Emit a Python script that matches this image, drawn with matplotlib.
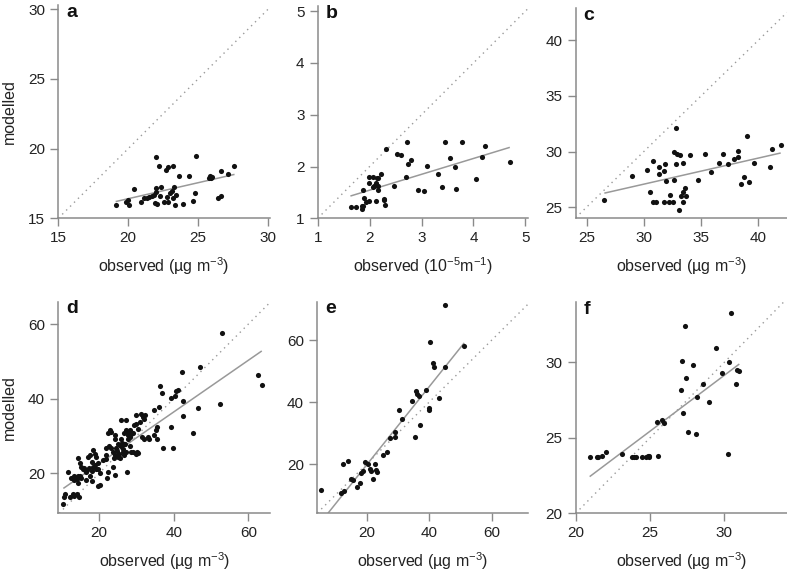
import numpy as np
import matplotlib
matplotlib.use("Agg")
import matplotlib.pyplot as plt

plt.rcParams['font.family'] = ['Liberation Sans', 'DejaVu Sans']
plt.rcParams['mathtext.fontset'] = 'custom'
plt.rcParams['mathtext.rm'] = 'Liberation Sans'
plt.rcParams['mathtext.it'] = 'Liberation Sans:italic'

# --- datos ---
a_obs = [19.10, 19.81, 20.00, 20.05, 20.40, 20.91, 21.12, 21.31, 21.50, 21.67, 21.86, 21.90,
         21.95, 21.95, 22.02, 22.09, 22.19, 22.26, 22.33, 22.57, 22.79, 22.69, 22.81, 22.86,
         22.98, 23.10, 23.22, 23.22, 23.26, 23.34, 23.45, 23.62, 23.88, 24.38, 24.62, 24.76,
         24.81, 25.80, 25.88, 25.95, 26.00, 26.40, 26.64, 26.64, 27.12, 27.55]
a_mod = [15.96, 16.15, 16.32, 15.96, 17.09, 16.15, 16.44, 16.49, 16.54, 16.61, 16.68, 16.13,
         19.37, 17.16, 16.92, 16.01, 18.77, 16.63, 17.21, 16.18, 16.54, 18.48, 18.65, 16.18,
         16.84, 16.99, 18.72, 16.44, 17.23, 15.96, 16.68, 18.00, 16.01, 18.00, 16.27, 16.84,
         19.44, 17.92, 18.02, 17.88, 17.98, 16.44, 16.60, 18.40, 18.16, 18.77]
a_fit_x = [19.1, 27.6]
a_fit_y = [16.2, 18.15]

b_obs = [1.64, 1.74, 1.85, 1.85, 1.88, 1.89, 1.93, 1.99, 1.87, 1.98, 2.06, 1.98, 2.06, 2.09,
         2.12, 2.13, 2.14, 2.17, 2.21, 2.17, 2.17, 2.13, 2.27, 2.28, 2.30, 2.32, 2.46, 2.52,
         2.60, 2.70, 2.72, 2.74, 2.80, 2.94, 3.04, 3.10, 3.31, 3.39, 3.45, 3.54, 3.64, 3.67,
         3.77, 4.04, 4.17, 4.23, 4.70]
b_mod = [1.21, 1.21, 1.18, 1.23, 1.24, 1.39, 1.32, 1.33, 1.55, 1.79, 1.80, 1.69, 1.60, 1.63,
         1.66, 1.69, 1.77, 1.77, 1.85, 1.63, 1.54, 1.34, 1.37, 1.36, 1.25, 2.34, 1.63, 2.24,
         2.23, 1.79, 2.47, 2.04, 2.12, 1.54, 1.52, 2.01, 1.86, 1.61, 2.47, 2.16, 1.99, 1.56,
         2.48, 1.75, 2.19, 2.39, 2.08]
b_fit_x = [1.63, 4.70]
b_fit_y = [1.43, 2.37]

c_obs = [26.55, 28.94, 30.26, 30.76, 30.55, 30.76, 31.05, 31.34, 31.28, 31.78, 31.86, 31.92,
         31.72, 32.16, 32.31, 32.54, 32.60, 32.66, 32.86, 33.15, 32.80, 32.83, 33.04, 33.21,
         33.39, 33.42, 33.42, 33.57, 33.68, 34.07, 34.74, 35.38, 35.88, 36.55, 36.93, 37.31,
         37.86, 38.21, 38.21, 38.50, 38.74, 38.97, 39.18, 39.62, 40.99, 41.23, 41.96]
c_mod = [25.66, 27.76, 28.36, 29.11, 26.32, 25.42, 25.42, 28.60, 27.97, 28.28, 28.90, 27.37,
         25.42, 25.48, 26.11, 25.48, 27.43, 29.96, 29.81, 29.72, 32.12, 28.90, 24.76, 25.99,
         29.00, 26.32, 25.42, 26.70, 26.00, 29.72, 27.46, 29.78, 28.13, 28.96, 29.78, 28.90,
         29.35, 29.50, 30.02, 27.10, 27.70, 31.43, 27.25, 28.96, 28.57, 30.20, 30.60]
c_fit_x = [26.55, 41.95]
c_fit_y = [26.26, 29.87]

d_obs = [10.45, 10.6, 10.8, 11.8, 12.3, 13.0, 13.4, 14.2, 14.6, 12.6, 13.4, 13.2, 14.0, 14.5,
         14.3, 14.5, 14.9, 15.3, 15.7, 16.2, 16.6, 15.3, 14.9, 16.6, 18.0, 17.5, 17.0, 17.5,
         18.4, 18.8, 19.3, 18.2, 18.8, 19.7, 19.7, 20.2, 19.1, 20.2, 19.7, 21.1, 21.8, 22.0,
         22.0, 22.7, 23.3, 22.4, 22.1, 22.9, 23.3, 22.4, 24.2, 24.4, 23.7, 24.4, 23.9, 23.7,
         24.2, 25.0, 25.3, 25.6, 24.8, 25.0, 25.5, 25.9, 24.6, 25.9, 26.4, 26.8, 27.3, 26.7,
         27.3, 27.7, 26.0, 27.3, 27.5, 28.2, 28.6, 29.1, 27.7, 28.2, 29.5, 29.9, 30.4, 29.9,
         31.3, 30.9, 31.8, 32.0, 32.2, 31.6, 32.0, 33.1, 33.5, 34.8, 36.1, 35.6, 35.2, 34.8,
         35.6, 36.3, 36.8, 37.1, 39.4, 39.8, 39.4, 40.3, 40.7, 41.2, 42.3, 42.6, 42.6,
         16.0, 16.8, 17.3, 18.0, 18.5, 26.2, 26.6, 27.0, 26.3, 27.8, 28.5, 29.0, 28.3, 30.5,
         30.0, 30.1, 53.0, 47.1, 52.4, 46.6, 45.1, 62.5, 63.6]
d_mod = [11.67, 13.7, 14.6, 20.4, 13.7, 14.4, 13.9, 14.4, 13.6, 18.8, 19.2, 18.2, 18.6, 17.5,
         19.4, 24.0, 22.7, 21.8, 21.3, 20.9, 20.4, 18.7, 19.4, 18.3, 17.9, 19.2, 24.4, 24.9,
         26.2, 25.3, 24.4, 23.1, 22.2, 22.7, 21.3, 20.0, 21.3, 17.0, 16.6, 23.5, 23.9, 24.9,
         26.7, 27.2, 26.7, 20.4, 18.7, 31.6, 31.2, 30.7, 30.2, 29.3, 25.7, 24.9, 24.0, 21.8,
         19.6, 24.5, 25.3, 24.0, 26.0, 28.0, 27.6, 27.2, 26.7, 29.3, 25.7, 24.9, 25.7, 30.7,
         31.6, 30.3, 34.3, 34.3, 20.4, 27.2, 25.7, 25.7, 29.3, 29.8, 32.9, 33.1, 32.0, 35.6,
         36.0, 33.7, 35.0, 34.6, 35.6, 29.7, 29.3, 29.8, 29.3, 36.9, 37.8, 32.3, 31.6, 30.2,
         29.3, 43.4, 41.5, 26.9, 32.3, 26.9, 40.1, 40.6, 42.2, 42.4, 47.2, 39.5, 35.3,
         21.5, 21.0, 21.4, 20.6, 21.6, 28.2, 27.8, 28.0, 26.5, 31.0, 30.5, 30.8, 31.5, 25.5,
         25.2, 25.8, 57.6, 48.6, 38.5, 37.6, 30.9, 46.4, 43.7]
d_fit_x = [10.45, 63.6]
d_fit_y = [15.97, 52.8]

e_obs = [5.27, 11.7, 12.8, 12.4, 14.0, 15.1, 15.6, 17.0, 17.95, 18.3, 18.8, 19.3, 20.4,
         20.9, 21.5, 22.0, 22.5, 23.1, 23.4, 25.2, 26.5, 27.4, 29.0, 29.2, 31.4, 30.3, 35.3,
         34.6, 37.1, 35.9, 36.1, 36.6, 39.1, 39.8, 39.9, 43.0, 41.1, 41.4, 40.1, 45.2, 45.0,
         51.2]
e_mod = [11.6, 10.5, 11.2, 20.0, 21.1, 15.2, 14.8, 12.5, 14.0, 17.2, 17.6, 20.5, 20.1,
         18.3, 17.8, 15.3, 19.9, 18.2, 17.4, 22.9, 23.8, 28.3, 28.8, 30.3, 34.6, 37.6, 28.7,
         40.5, 32.6, 43.5, 42.6, 41.9, 44.0, 38.2, 37.6, 41.2, 52.6, 51.4, 59.5, 51.3, 71.3,
         58.1]
e_fit_x = [7.6, 51.2]
e_fit_y = [4.1, 59.1]

f_obs = [20.94, 21.46, 21.52, 21.80, 22.04, 23.14, 23.77, 23.90, 24.03, 24.48, 24.70, 24.84,
         24.93, 24.95, 25.56, 25.49, 25.83, 25.96, 27.06, 27.18, 27.24, 27.35, 27.40, 27.54,
         27.87, 28.07, 28.14, 28.59, 28.99, 29.46, 29.84, 30.23, 30.32, 30.45, 30.79, 30.88,
         31.01]
f_mod = [23.76, 23.72, 23.72, 23.78, 24.05, 23.90, 23.76, 23.76, 23.72, 23.72, 23.76, 23.80,
         23.80, 23.70, 23.80, 26.04, 26.20, 25.98, 28.14, 30.10, 26.63, 32.44, 28.94, 25.40,
         29.84, 25.27, 27.68, 28.54, 27.38, 30.93, 29.30, 23.90, 30.05, 33.30, 28.54, 29.52,
         29.45]
f_fit_x = [20.94, 31.01]
f_fit_y = [22.43, 29.89]

ug = 'observed (µg m$^{-3}$)'
paneles = [
    ('a', a_obs, a_mod, a_fit_x, a_fit_y, (15, 30.1), (15, 30.3), [15, 20, 25, 30], [15, 20, 25, 30], ug, True),
    ('b', b_obs, b_mod, b_fit_x, b_fit_y, (1, 5.05), (1, 5.1), [1, 2, 3, 4, 5], [1, 2, 3, 4, 5],
     'observed (10$^{-5}$m$^{-1}$)', False),
    ('c', c_obs, c_mod, c_fit_x, c_fit_y, (24.05, 42.5), (24.0, 42.9), [25, 30, 35, 40], [25, 30, 35, 40], ug, False),
    ('d', d_obs, d_mod, d_fit_x, d_fit_y, (9.1, 65.8), (9.3, 66.0), [20, 40, 60], [20, 40, 60], ug, True),
    ('e', e_obs, e_mod, e_fit_x, e_fit_y, (4.2, 71.7), (4.1, 72.4), [20, 40, 60], [20, 40, 60], ug, False),
    ('f', f_obs, f_mod, f_fit_x, f_fit_y, (20, 34.2), (20, 34.0), [20, 25, 30], [20, 25, 30], ug, False),
]

# cajas de los ejes en píxeles (izq, der, arriba, abajo)
cajas = [(58.3, 269.5, 5, 218.3), (317.7, 528, 6, 218.3), (575.7, 787, 8, 218.3),
         (58.3, 270, 301.7, 513.3), (317.3, 528.3, 301.7, 513.3), (575.7, 786.7, 302, 513.3)]

W, H = 787, 571
fig = plt.figure(figsize=(W / 100, H / 100), dpi=100)
gris = '#8a8a8a'
texto = '#222222'

for (letra, obs, mod, fx, fy, xl, yl, xt, yt, xlab, ylab), (L, R, T, B) in zip(paneles, cajas):
    ax = fig.add_axes([L / W, 1 - B / H, (R - L) / W, (B - T) / H])
    lo = min(xl[0], yl[0])
    ax.axline((lo, lo), slope=1, color='#9a9a9a', lw=1.0, linestyle=(0, (1, 3)))
    ax.plot(fx, fy, color='#999999', lw=1.1, solid_capstyle='butt')
    ax.plot(obs, mod, 'o', color='#111111', markersize=3.7, markeredgewidth=0, clip_on=False)
    ax.set_xlim(xl)
    ax.set_ylim(yl)
    ax.set_xticks(xt)
    ax.set_yticks(yt)
    for s in ['top', 'right']:
        ax.spines[s].set_visible(False)
    for s in ['left', 'bottom']:
        ax.spines[s].set_color(gris)
        ax.spines[s].set_linewidth(1.1)
    ax.tick_params(direction='out', length=5.5, width=1.0, color=gris,
                   labelsize=11, labelcolor=texto, pad=4)
    ax.set_xlabel(xlab, fontsize=11.5, color=texto, labelpad=7)
    if ylab:
        ax.set_ylabel('modelled', fontsize=11.5, color=texto, labelpad=8)
    ax.annotate(letra, xy=(0, 1), xycoords='axes fraction', xytext=(5.5, 1),
                textcoords='offset points', ha='left', va='top',
                fontsize=14, fontweight='bold', color='#111111')

fig.savefig('out.png', dpi=100)
